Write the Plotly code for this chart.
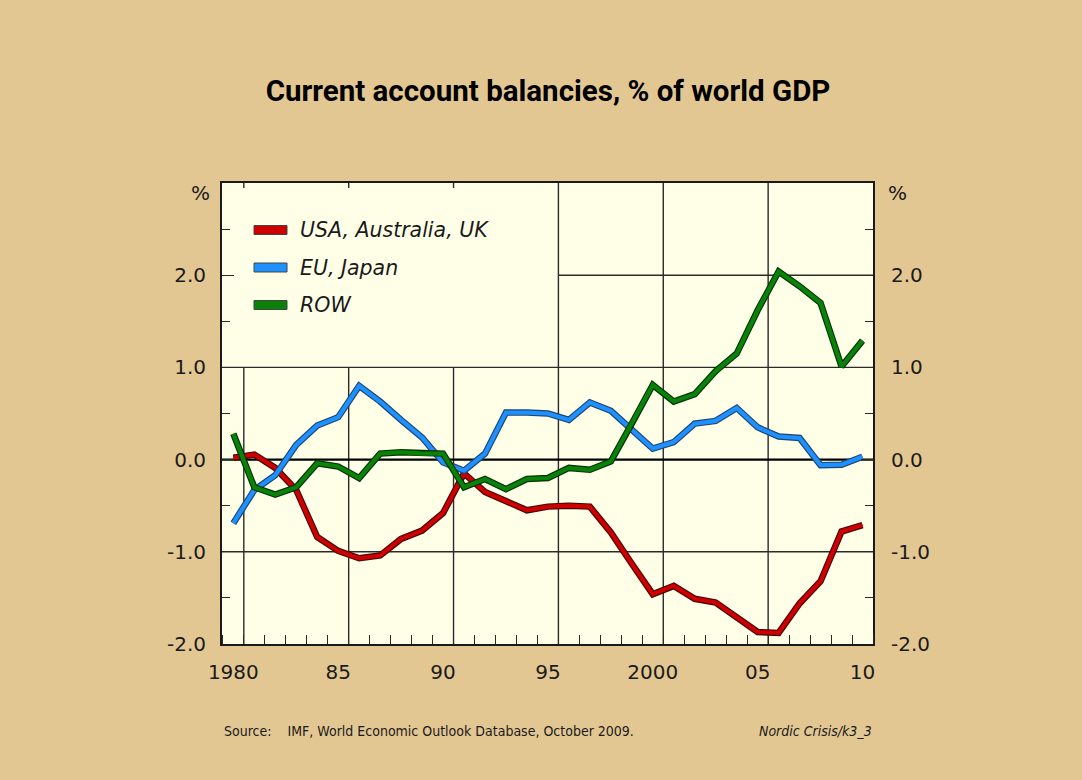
import plotly.graph_objects as go

# ---------------- data ----------------
years = [1980, 1981, 1982, 1983, 1984, 1985, 1986, 1987, 1988, 1989,
         1990, 1991, 1992, 1993, 1994, 1995, 1996, 1997, 1998, 1999,
         2000, 2001, 2002, 2003, 2004, 2005, 2006, 2007, 2008, 2009, 2010]

usa_aus_uk = [0.02, 0.055, -0.09, -0.33, -0.84, -0.99, -1.07, -1.04, -0.86, -0.77,
              -0.58, -0.15, -0.35, -0.45, -0.55, -0.51, -0.50, -0.51, -0.79, -1.13,
              -1.46, -1.37, -1.51, -1.55, -1.71, -1.87, -1.88, -1.56, -1.32, -0.78, -0.71]

eu_japan = [-0.69, -0.33, -0.17, 0.16, 0.37, 0.46, 0.80, 0.63, 0.43, 0.24,
            -0.03, -0.12, 0.065, 0.51, 0.51, 0.50, 0.43, 0.62, 0.53, 0.33,
            0.12, 0.19, 0.39, 0.42, 0.56, 0.35, 0.25, 0.235, -0.06, -0.055, 0.03]

row = [0.28, -0.30, -0.38, -0.30, -0.04, -0.075, -0.20, 0.065, 0.08, 0.065,
       0.065, -0.30, -0.21, -0.32, -0.21, -0.20, -0.09, -0.11, -0.02, 0.39,
       0.81, 0.63, 0.71, 0.96, 1.15, 1.62, 2.04, 1.88, 1.70, 1.01, 1.29]

series_names = ["USA, Australia, UK", "EU, Japan", "ROW"]
series_values = [usa_aus_uk, eu_japan, row]

x_tick_vals = [1980, 1985, 1990, 1995, 2000, 2005, 2010]
x_tick_text = ["1980", "85", "90", "95", "2000", "05", "10"]
y_tick_vals = [-2, -1, 0, 1, 2]
y_tick_text = ["-2.0", "-1.0", "0.0", "1.0", "2.0"]

title_text = "Current account balancies, % of world GDP"
source_text = "Source:\u00a0\u00a0\u00a0 IMF, World Economic Outlook Database, October 2009."
credit_text = "Nordic Crisis/k3_3"

# ---------------- style / layout ----------------
W, H = 1082, 780
L, R, T, B = 222, 209, 183, 136
PW, PH = W - L - R, H - T - B

def px_x(px):
    return (px - L) / PW

def px_y(py):
    return (H - B - py) / PH

colors = ["#CC0000", "#1E90FF", "#0A820A"]
edge_colors = ["#4a0000", "#1b4670", "#003300"]
PAGE_BG = "#E3C792"
PLOT_BG = "#FFFFE8"
INK = "#1a1a1a"
GRID = "#2a2a2a"
TICK_FONT = dict(family="DejaVu Sans, Verdana, sans-serif", size=20, color=INK)
SMALL_FONT_FAMILY = "DejaVu Sans Condensed, DejaVu Sans, sans-serif"

fig = go.Figure()

for name, vals, c, ec in zip(series_names, series_values, colors, edge_colors):
    fig.add_trace(go.Scatter(x=years, y=vals, mode="lines",
                             line=dict(color=ec, width=6.5),
                             showlegend=False, hoverinfo="skip"))
    fig.add_trace(go.Scatter(x=years, y=vals, mode="lines", name=name,
                             line=dict(color=c, width=4.2),
                             showlegend=False))

# dummy trace so the right-hand axis is drawn
fig.add_trace(go.Scatter(x=[None], y=[None], yaxis="y2", showlegend=False,
                         hoverinfo="skip"))

x0, x1 = 1979.46, 2010.5
shapes = []
# vertical grid lines
for xv, ytop in [(1980.5, 1), (1985.5, 1), (1990.5, 1),
                 (1995.5, 3), (2000.5, 3), (2005.5, 3)]:
    shapes.append(dict(type="line", xref="x", yref="y", x0=xv, x1=xv, y0=-2, y1=ytop,
                       line=dict(color=GRID, width=1.4), layer="below"))
# horizontal grid lines
for yv, xs in [(1, x0), (-1, x0), (2, 1995.5)]:
    shapes.append(dict(type="line", xref="x", yref="y", x0=xs, x1=x1, y0=yv, y1=yv,
                       line=dict(color=GRID, width=1.4), layer="below"))
shapes.append(dict(type="line", xref="x", yref="y", x0=x0, x1=x1, y0=0, y1=0,
                   line=dict(color="#000000", width=2.2), layer="below"))
# short top ticks in the legend region
for xv in [1980.5, 1985.5, 1990.5]:
    shapes.append(dict(type="line", xref="x", yref="paper", x0=xv, x1=xv,
                       y0=1, y1=px_y(T + 5), line=dict(color=GRID, width=1.4)))

# custom legend (swatches + text)
annotations = []
legend_y = [230, 267.5, 305]
for name, c, cy in zip(series_names, colors, legend_y):
    shapes.append(dict(type="rect", xref="paper", yref="paper",
                       x0=px_x(254), x1=px_x(287), y0=px_y(cy + 4.5), y1=px_y(cy - 4.5),
                       fillcolor=c, line=dict(color="#444444", width=1)))
    annotations.append(dict(text=name, xref="paper", yref="paper",
                            x=px_x(298), y=px_y(cy), xanchor="left", yanchor="middle",
                            showarrow=False,
                            font=dict(family="DejaVu Sans, Verdana, sans-serif",
                                      size=20.5, color=INK, style="italic")))

# % unit labels
for xp in [200, 897]:
    annotations.append(dict(text="%", xref="paper", yref="paper",
                            x=px_x(xp), y=px_y(193), xanchor="center", yanchor="middle",
                            showarrow=False, font=TICK_FONT))

# source & credit
annotations.append(dict(text=source_text, xref="paper", yref="paper",
                        x=px_x(222), y=px_y(731), xanchor="left", yanchor="middle",
                        showarrow=False,
                        font=dict(family=SMALL_FONT_FAMILY, size=14, color=INK)))
annotations.append(dict(text=credit_text, xref="paper", yref="paper",
                        x=px_x(874), y=px_y(731), xanchor="right", yanchor="middle",
                        showarrow=False,
                        font=dict(family=SMALL_FONT_FAMILY, size=14, color=INK, style="italic")))

axis_line = dict(showline=True, linewidth=2, linecolor=INK, showgrid=False, zeroline=False)

fig.update_layout(
    width=W, height=H,
    margin=dict(l=L, r=R, t=T, b=B, pad=0),
    paper_bgcolor=PAGE_BG, plot_bgcolor=PLOT_BG,
    showlegend=False,
    title=dict(text="<b>" + title_text + "</b>", x=px_x(548), xref="paper", xanchor="center",
               y=1 - 91 / H, yref="container", yanchor="middle",
               font=dict(family="Roboto, DejaVu Sans, sans-serif", size=29.5, color="#000000")),
    xaxis=dict(range=[x0, x1], tickmode="array", tickvals=x_tick_vals, ticktext=x_tick_text,
               ticks="", tickfont=TICK_FONT, ticklabelstandoff=9, mirror=True,
               minor=dict(tickmode="linear", tick0=1980.5, dtick=1, ticks="inside",
                          ticklen=9, tickwidth=1.4, tickcolor=GRID, showgrid=False),
               **axis_line),
    yaxis=dict(range=[-2, 3], tickmode="array", tickvals=y_tick_vals, ticktext=y_tick_text,
               ticks="inside", ticklen=12, tickwidth=1.4, tickcolor=GRID,
               tickfont=TICK_FONT, ticklabelstandoff=10, mirror=True,
               minor=dict(tickmode="linear", tick0=-2, dtick=0.5, ticks="inside",
                          ticklen=8, tickwidth=1.4, tickcolor=GRID, showgrid=False),
               **axis_line),
    yaxis2=dict(range=[-2, 3], overlaying="y", side="right", anchor="x",
                tickmode="array", tickvals=y_tick_vals, ticktext=y_tick_text,
                ticks="inside", ticklen=12, tickwidth=1.4, tickcolor=GRID,
                tickfont=TICK_FONT, ticklabelstandoff=12,
                minor=dict(tickmode="linear", tick0=-2, dtick=0.5, ticks="inside",
                           ticklen=8, tickwidth=1.4, tickcolor=GRID, showgrid=False),
                **axis_line),
    shapes=shapes,
    annotations=annotations,
)

fig.write_html("out.html", config={"displayModeBar": False},
               post_script="document.body.style.margin='0';document.body.style.padding='0';")
